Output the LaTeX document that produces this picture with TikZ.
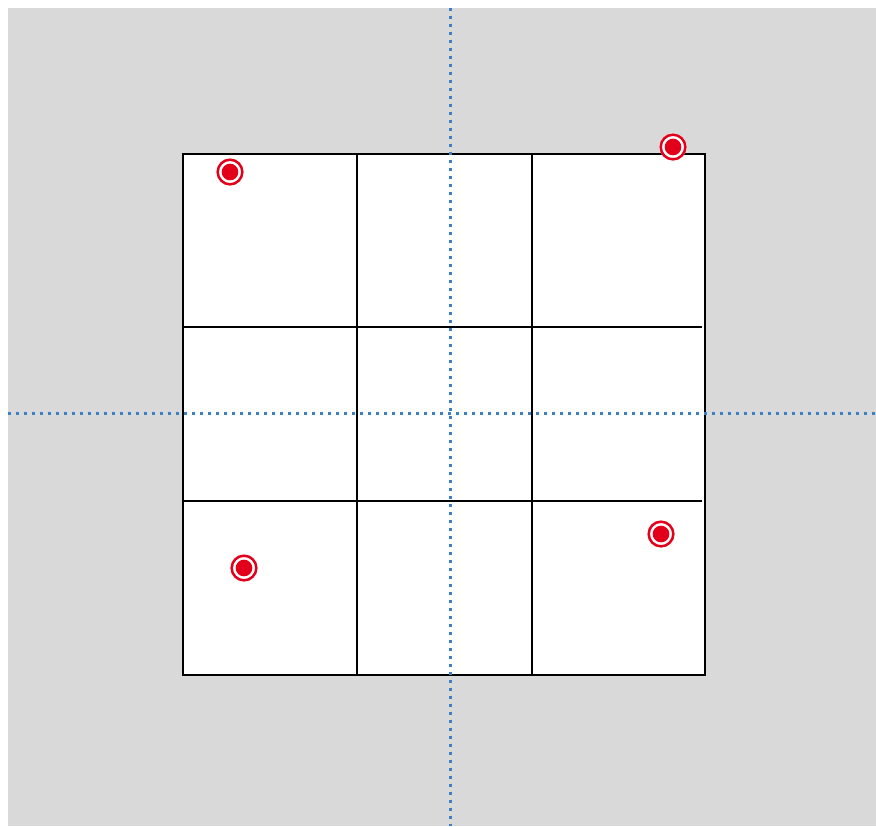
\documentclass[tikz,border=0pt]{standalone}
\usepackage{tikz}
\usetikzlibrary{calc}

\definecolor{bggray}{RGB}{217,217,217}
\definecolor{axisblue}{RGB}{58,128,196}
\definecolor{tgtred}{RGB}{226,0,26}

\begin{document}
\begin{tikzpicture}[x=0.03cm, y=-0.03cm,
    gridline/.style={black, line width=0.7mm},
    axisline/.style={axisblue, line width=0.9mm, dash pattern=on 0.9mm off 1.5mm}]
  \useasboundingbox (0,0) rectangle (876,826);
  % background
  \fill[bggray] (8,8) rectangle (876,826);
  % 3x3 board
  \fill[white] (183,154) rectangle (705,675);
  \foreach \x in {357,532} \draw[gridline] (\x,154) -- (\x,675);
  \foreach \y in {327,501} \draw[gridline] (183,\y) -- (702,\y);
  \draw[gridline] (183,154) rectangle (705,675);
  % centre axes
  \coordinate (top) at (450,8);
  \coordinate (bottom) at (450,826);
  \coordinate (left) at (8,413);
  \coordinate (right) at (876,413);
  \draw[axisline] (top) -- (bottom);
  \draw[axisline] (left) -- (right);
  % targets
  \foreach \px/\py in {230/172, 673/147, 244/568, 661/534} {
    \fill[white] (\px,\py) circle (0.41cm);
    \draw[tgtred, line width=0.75mm] (\px,\py) circle (0.37cm);
    \fill[tgtred] (\px,\py) circle (0.25cm);
  }
\end{tikzpicture}
\end{document}
